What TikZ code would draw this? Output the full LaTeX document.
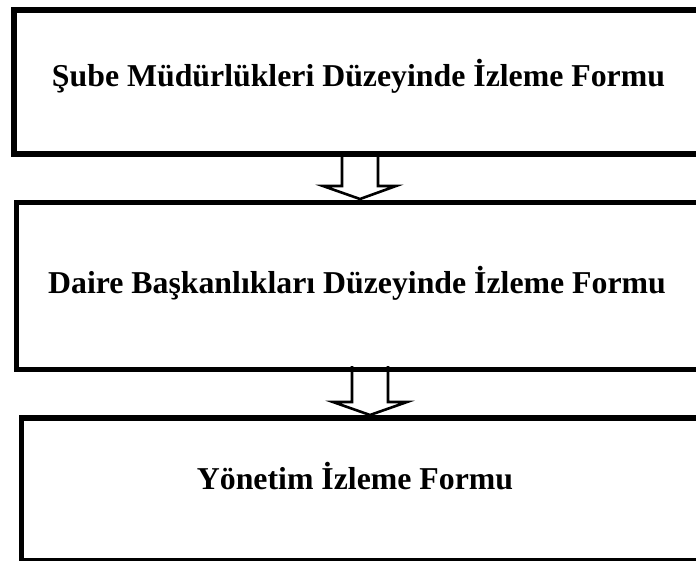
\documentclass[tikz,border=0pt]{standalone}
\usepackage{fontspec}
\setmainfont{Liberation Serif}
\usetikzlibrary{calc}
\begin{document}
\begin{tikzpicture}[x=1pt,y=-1pt,
  boxstyle/.style={draw=black,line width=5.5pt,rectangle,inner sep=0pt},
  txt/.style={font=\fontsize{31.8}{38}\selectfont\bfseries,inner sep=0pt,anchor=base},
  blk/.style={draw=black,line width=2.6pt,fill=white,line join=miter}]
\useasboundingbox (0,0) rectangle (696,560);
\clip (0,0) rectangle (696,560);
% arrows first (boxes' borders cover their ends)
\coordinate (a1) at (360,151);
\coordinate (a1e) at (360,199);
\coordinate (a2) at (370,366);
\coordinate (a2e) at (370,415);
\draw[blk] ($(a1)+(-18,0)$) -- ($(a1e)+(-18,-13)$) -- ($(a1e)+(-37,-13)$) -- (a1e)
  -- ($(a1e)+(36,-13)$) -- ($(a1e)+(18,-13)$) -- ($(a1)+(18,0)$);
\draw[blk] ($(a2)+(-18,0)$) -- ($(a2e)+(-18,-13)$) -- ($(a2e)+(-37,-13)$) -- (a2e)
  -- ($(a2e)+(37,-13)$) -- ($(a2e)+(18,-13)$) -- ($(a2)+(18,0)$);
% boxes
\node[boxstyle,minimum width=692pt,minimum height=144pt,anchor=north west] (b1) at (11,7) {};
\node[boxstyle,minimum width=692pt,minimum height=167pt,anchor=north west] (b2) at (13.5,199.5) {};
\node[boxstyle,minimum width=692pt,minimum height=143pt,anchor=north west] (b3) at (18.5,415) {};
% texts
\node[txt] (t1) at (358.5,86) {Şube Müdürlükleri Düzeyinde İzleme Formu};
\node[txt] (t2) at (357,293) {Daire Başkanlıkları Düzeyinde İzleme Formu};
\node[txt] (t3) at (355,489) {Yönetim İzleme Formu};
\end{tikzpicture}
\end{document}
